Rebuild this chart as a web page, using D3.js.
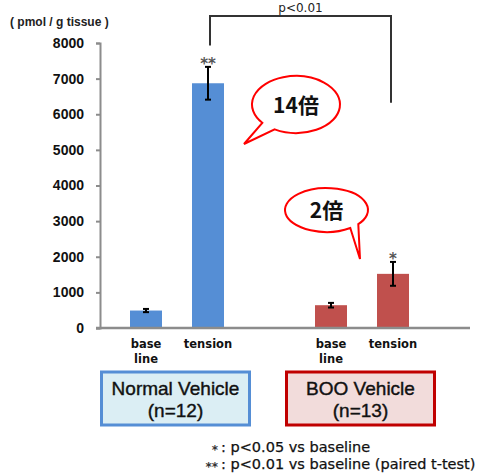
<!DOCTYPE html>
<html>
<head>
<meta charset="utf-8">
<script src="https://cdn.jsdelivr.net/npm/d3@7"></script>
<style>
  body { margin: 0; background: #fff; }
  svg { display: block; }
</style>
</head>
<body>
<div id="chart"></div>
<script>
// values
const groups = ["Normal Vehicle", "BOO Vehicle"];
const groupN = ["(n=12)", "(n=13)"];
const conditions = ["baseline", "tension"];
const conditionLabels = [["base", "line"], ["tension"]];
const normalMeans = [490, 6870];
const normalErrors = [45, 460];
const booMeans = [640, 1520];
const booErrors = [65, 335];
const normalMarks = ["", "**"];
const booMarks = ["", "*"];
const yTicks = [0, 1000, 2000, 3000, 4000, 5000, 6000, 7000, 8000];
const foldLabels = ["14倍", "2倍"];
const bracketLabel = "p<0.01";
const footnotes = [["*", ": p<0.05 vs baseline"], ["**", ": p<0.01 vs baseline (paired t-test)"]];

const colors = ["#558ED5", "#C0504D"];
const boxFill = ["#DBEEF4", "#F2DCDB"];
const boxStroke = ["#558ED5", "#C00000"];

const data = [];
groups.forEach((g, gi) => {
    const means = gi === 0 ? normalMeans : booMeans;
    const errs = gi === 0 ? normalErrors : booErrors;
    const marks = gi === 0 ? normalMarks : booMarks;
    conditions.forEach((c, ci) => {
        data.push({group: g, gi: gi, cond: c, ci: ci, mean: means[ci], err: errs[ci], mark: marks[ci]});
    });
});

const width = 482, height = 476;
const svg = d3.select("#chart").append("svg")
    .attr("width", width)
    .attr("height", height);

// scales
const y = d3.scaleLinear().domain([0, 8000]).range([328, 43]);
const x0 = d3.scaleBand().domain(groups).range([85, 455]);
const x1 = d3.scaleBand().domain(conditions).range([30, 154])
    .paddingInner(0.484).paddingOuter(0.242);
const barX = d => x0(d.group) + x1(d.cond);
const barCx = d => barX(d) + x1.bandwidth() / 2;

// y axis
const yAxis = svg.append("g")
    .attr("transform", "translate(100,0)")
    .call(d3.axisLeft(y).tickValues(yTicks).tickFormat(d3.format("d")).tickSize(4).tickPadding(12));
yAxis.select(".domain").attr("stroke", "#8c8c8c").attr("stroke-width", 2);
yAxis.selectAll(".tick line").attr("stroke", "#8c8c8c").attr("stroke-width", 2);
yAxis.selectAll(".tick text")
    .attr("fill", "#111")
    .style("font-family", "Liberation Sans, Arial, sans-serif")
    .style("font-weight", "bold")
    .style("font-size", "14px");

svg.append("text")
    .attr("x", 10).attr("y", 26)
    .style("font-family", "Liberation Sans, Arial, sans-serif")
    .style("font-weight", "bold")
    .style("font-size", "12px")
    .attr("fill", "#222")
    .text("( pmol / g tissue )");

// bars
svg.append("g").selectAll("rect")
    .data(data)
    .enter().append("rect")
    .attr("x", barX)
    .attr("y", d => y(d.mean))
    .attr("width", x1.bandwidth())
    .attr("height", d => y(0) - y(d.mean))
    .attr("fill", d => colors[d.gi]);

// x axis line
svg.append("line")
    .attr("x1", 96).attr("x2", 470)
    .attr("y1", y(0)).attr("y2", y(0))
    .attr("stroke", "#8c8c8c").attr("stroke-width", 2.5);

// error bars
const eb = svg.append("g").selectAll("g")
    .data(data)
    .enter().append("g")
    .attr("stroke", "#000").attr("stroke-width", 2);
eb.append("line")
    .attr("x1", barCx).attr("x2", barCx)
    .attr("y1", d => y(d.mean + d.err)).attr("y2", d => y(d.mean - d.err));
eb.append("line")
    .attr("x1", d => barCx(d) - 3).attr("x2", d => barCx(d) + 3)
    .attr("y1", d => y(d.mean + d.err)).attr("y2", d => y(d.mean + d.err));
eb.append("line")
    .attr("x1", d => barCx(d) - 3).attr("x2", d => barCx(d) + 3)
    .attr("y1", d => y(d.mean - d.err)).attr("y2", d => y(d.mean - d.err));

// significance marks
svg.append("g").selectAll("text")
    .data(data.filter(d => d.mark))
    .enter().append("text")
    .attr("x", barCx)
    .attr("y", d => y(d.mean + d.err) + 2)
    .attr("text-anchor", "middle")
    .style("font-family", "DejaVu Sans, sans-serif")
    .style("font-weight", "bold")
    .style("font-size", "15px")
    .attr("fill", "#555")
    .text(d => d.mark);

// category labels
const lab = svg.append("g").selectAll("text")
    .data(data)
    .enter().append("text")
    .attr("x", barCx)
    .attr("y", 348)
    .attr("text-anchor", "middle")
    .style("font-family", "DejaVu Sans, sans-serif")
    .style("font-weight", "bold")
    .style("font-size", "11.5px")
    .attr("fill", "#111");
lab.selectAll("tspan")
    .data(d => conditionLabels[d.ci].map(t => ({t: t, x: barCx(d)})))
    .enter().append("tspan")
    .attr("x", t => t.x)
    .attr("dy", (t, i) => i === 0 ? 0 : 15)
    .text(t => t.t);

// group boxes
const box = svg.append("g").selectAll("g")
    .data(groups)
    .enter().append("g");
box.append("rect")
    .attr("x", g => x0(g) + x0.bandwidth() / 2 - 76)
    .attr("y", 372)
    .attr("width", 148).attr("height", 53)
    .attr("fill", (g, i) => boxFill[i])
    .attr("stroke", (g, i) => boxStroke[i])
    .attr("stroke-width", 3);
box.append("text")
    .attr("x", g => x0(g) + x0.bandwidth() / 2 - 2)
    .attr("y", 395)
    .attr("text-anchor", "middle")
    .style("font-family", "Liberation Sans, Arial, sans-serif")
    .style("font-size", "19px")
    .attr("fill", "#111").attr("stroke", "#111").attr("stroke-width", 0.4)
    .text(g => g);
box.append("text")
    .attr("x", g => x0(g) + x0.bandwidth() / 2 - 2)
    .attr("y", 417)
    .attr("text-anchor", "middle")
    .style("font-family", "Liberation Sans, Arial, sans-serif")
    .style("font-size", "19px")
    .attr("fill", "#111").attr("stroke", "#111").attr("stroke-width", 0.4)
    .text((g, i) => groupN[i]);

// bracket between the two tension bars
const leftT = data[1], rightT = data[3];
svg.append("path")
    .attr("d", `M${barCx(leftT) + 2},${y(7930)}V16H${barCx(rightT) - 2}V${y(6320)}`)
    .attr("fill", "none")
    .attr("stroke", "#333")
    .attr("stroke-width", 2);
svg.append("text")
    .attr("x", (barCx(leftT) + barCx(rightT)) / 2)
    .attr("y", 12)
    .attr("text-anchor", "middle")
    .style("font-family", "DejaVu Sans, sans-serif")
    .style("font-size", "12px")
    .attr("fill", "#222")
    .text(bracketLabel);

// speech bubbles
const bubbles = [
    {label: foldLabels[0], cx: 296, cy: 104.5, rx: 44, ry: 28.5, a0: 140, a1: 119, tip: [244, 144]},
    {label: foldLabels[1], cx: 326.5, cy: 210, rx: 41.5, ry: 22, a0: 55, a1: 40, tip: [360, 259]}
];
const pt = (b, a) => [b.cx + b.rx * Math.cos(a * Math.PI / 180), b.cy + b.ry * Math.sin(a * Math.PI / 180)];
const bub = svg.append("g").selectAll("g")
    .data(bubbles)
    .enter().append("g");
bub.append("path")
    .attr("d", b => {
        const p0 = pt(b, b.a0), p1 = pt(b, b.a1);
        return `M${p0[0]},${p0[1]}A${b.rx},${b.ry} 0 1 1 ${p1[0]},${p1[1]}L${b.tip[0]},${b.tip[1]}Z`;
    })
    .attr("fill", "#fff")
    .attr("stroke", "#FF0000")
    .attr("stroke-width", 2);
bub.append("text")
    .attr("x", b => b.cx)
    .attr("y", b => b.cy + 8)
    .attr("text-anchor", "middle")
    .style("font-family", "Noto Sans CJK JP, sans-serif")
    .style("font-weight", "bold")
    .style("font-size", "21px")
    .attr("fill", "#111")
    .text(b => b.label);

// footnotes
const fn = svg.append("g").selectAll("g")
    .data(footnotes)
    .enter().append("g")
    .attr("transform", (f, i) => `translate(0,${452 + i * 17})`);
fn.append("text")
    .attr("x", 218)
    .attr("y", 2)
    .attr("text-anchor", "end")
    .style("font-family", "DejaVu Sans, sans-serif")
    .style("font-weight", "bold")
    .style("font-size", "12px")
    .attr("fill", "#333")
    .text(f => f[0]);
fn.append("text")
    .attr("x", 221)
    .attr("y", 0)
    .style("font-family", "DejaVu Sans, sans-serif")
    .style("font-size", "14.5px")
    .attr("fill", "#111").attr("stroke", "#111").attr("stroke-width", 0.25)
    .text(f => f[1]);
</script>
</body>
</html>
